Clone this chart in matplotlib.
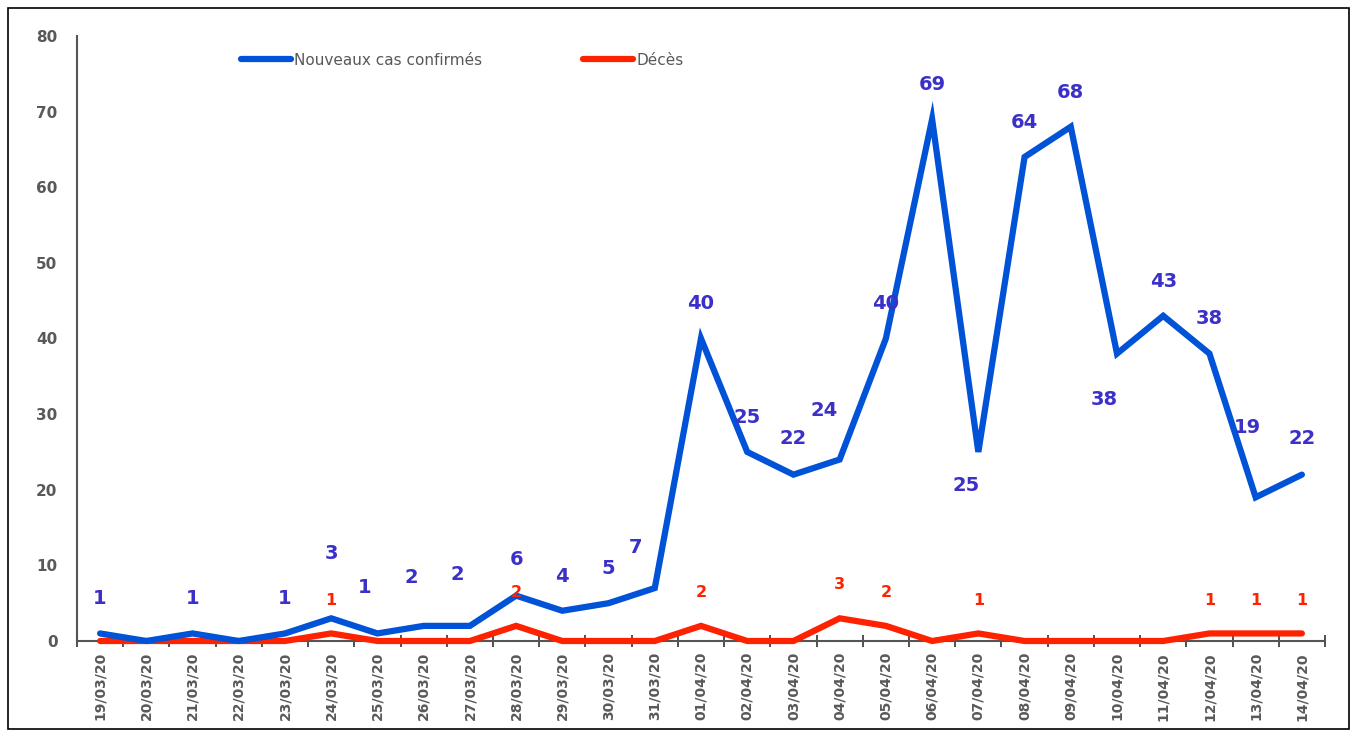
"""Daily new confirmed cases and deaths, 19/03/20 - 14/04/20."""

import matplotlib

matplotlib.use("Agg")
import matplotlib.pyplot as plt
import numpy as np
from matplotlib.patches import Rectangle

dates = [
    "19/03/20", "20/03/20", "21/03/20", "22/03/20", "23/03/20", "24/03/20",
    "25/03/20", "26/03/20", "27/03/20", "28/03/20", "29/03/20", "30/03/20",
    "31/03/20", "01/04/20", "02/04/20", "03/04/20", "04/04/20", "05/04/20",
    "06/04/20", "07/04/20", "08/04/20", "09/04/20", "10/04/20", "11/04/20",
    "12/04/20", "13/04/20", "14/04/20",
]
cases = [1, 0, 1, 0, 1, 3, 1, 2, 2, 6, 4, 5, 7, 40, 25, 22, 24, 40, 69, 25,
         64, 68, 38, 43, 38, 19, 22]
deaths = [0, 0, 0, 0, 0, 1, 0, 0, 0, 2, 0, 0, 0, 2, 0, 0, 3, 2, 0, 1,
          0, 0, 0, 0, 1, 1, 1]

# label offsets (points) for the case labels, as placed in the original
case_dx = [0, 0, 0, 0, 0, 0, -9, -9, -9, 0, 0, 0, -14, 0, 0, 0, -11, 0, 0, -9,
           0, 0, -9, 0, 0, -6, 0]
case_dy = [25, 25, 25, 25, 25, 47, 33, 35, 37, 26, 25, 25, 29, 25, 25, 26, 35, 25,
           25, -24, 25, 25, -33, 25, 25, 50, 26]

BLUE = "#0052d6"
RED = "#ff2200"
BLUE_TXT = "#3b30c8"
RED_TXT = "#ff2200"
GRAY = "#595959"

fig = plt.figure(figsize=(13.57, 7.37), dpi=100)
ax = fig.add_axes([77 / 1357, 1 - 641 / 737, (1325 - 77) / 1357, (641 - 36) / 737])

x = np.arange(len(dates))
ax.plot(x, cases, color=BLUE, linewidth=4.5, solid_capstyle="round",
        solid_joinstyle="miter", label="Nouveaux cas confirmés", zorder=4,
        clip_on=False)
ax.plot(x, deaths, color=RED, linewidth=4.5, solid_capstyle="round",
        solid_joinstyle="miter", label="Décès", zorder=3, clip_on=False)

for i, v in enumerate(cases):
    if v == 0:
        continue
    ax.annotate(str(v), (x[i], v), xytext=(case_dx[i], case_dy[i]),
                textcoords="offset points", ha="center", va="center",
                fontsize=14, fontweight="bold", color=BLUE_TXT, zorder=5)

for i, v in enumerate(deaths):
    if v == 0:
        continue
    ax.annotate(str(v), (x[i], v), xytext=(0, 24), textcoords="offset points",
                ha="center", va="center", fontsize=11.5, fontweight="bold",
                color=RED_TXT, zorder=5)

ax.set_xlim(-0.5, len(dates) - 0.5)
ax.set_ylim(0, 80)
ax.set_yticks(np.arange(0, 81, 10))
ax.tick_params(axis="y", length=0, labelsize=11, labelcolor=GRAY, pad=14)
for lbl in ax.get_yticklabels():
    lbl.set_fontweight("bold")

ax.set_xticks(x)
ax.set_xticklabels(dates, rotation=90, fontsize=10, color=GRAY, fontweight="bold")
ax.tick_params(axis="x", which="major", length=0, pad=8)
ax.set_xticks(np.arange(-0.5, len(dates)), minor=True)
ax.tick_params(axis="x", which="minor", length=8, direction="inout",
               color="#333333", width=1.2)

for side in ["top", "right"]:
    ax.spines[side].set_visible(False)
ax.spines["left"].set_color("#555555")
ax.spines["left"].set_linewidth(1.5)
ax.spines["bottom"].set_color("#555555")
ax.spines["bottom"].set_linewidth(1.5)

leg = ax.legend(loc="center left", bbox_to_anchor=(0.12, 0.96), ncol=2,
                frameon=False, fontsize=11, handlelength=3.3, handletextpad=0.2,
                columnspacing=6.6)
for t in leg.get_texts():
    t.set_color(GRAY)

fig.patches.append(Rectangle((8 / 1357, 8 / 737), 1341 / 1357, 721 / 737,
                             transform=fig.transFigure, fill=False,
                             edgecolor="black", linewidth=1.2))

fig.savefig("out.png", dpi=100)
